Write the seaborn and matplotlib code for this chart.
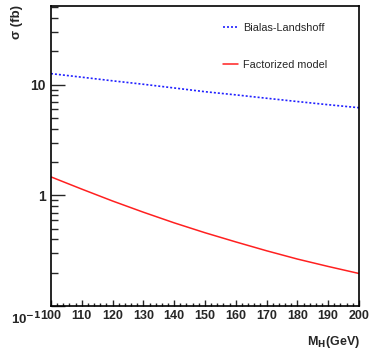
import numpy as np
import pandas as pd
import matplotlib
matplotlib.use("Agg")
import matplotlib.pyplot as plt
import seaborn as sns
from matplotlib.ticker import FixedLocator, FixedFormatter, MultipleLocator, LogLocator, NullFormatter

sns.set_style("white")
plt.rcParams['font.family'] = ['Liberation Sans', 'DejaVu Sans']
plt.rcParams['mathtext.default'] = 'bf'
plt.rcParams['axes.unicode_minus'] = False

mass = [100, 110, 120, 130, 140, 150, 160, 170, 180, 190, 200]
bialas = [12.6, 11.7, 10.85, 10.1, 9.35, 8.65, 8.1, 7.55, 7.05, 6.6, 6.2]
factorized = [1.47, 1.14, 0.89, 0.705, 0.565, 0.46, 0.38, 0.316, 0.266, 0.228, 0.197]
series_names = ["Bialas-Landshoff", "Factorized model"]
ytick_vals = [0.1, 1, 10]
ytick_labels = ["10$^{-1}$", "1", "10"]

df = pd.DataFrame({
    "M": mass * 2,
    "sigma": bialas + factorized,
    "model": [series_names[0]] * len(mass) + [series_names[1]] * len(mass),
})

fig = plt.figure(figsize=(3.72, 3.51), dpi=100)
ax = fig.add_axes([0.137, 0.128, 0.828, 0.855])

sns.lineplot(data=df[df.model == series_names[0]], x="M", y="sigma", ax=ax,
             color="#2020ff", linestyle=(0, (1.2, 1.2)), linewidth=1.2, label=series_names[0])
sns.lineplot(data=df[df.model == series_names[1]], x="M", y="sigma", ax=ax,
             color="#ff2020", linewidth=1.1, label=series_names[1])

ax.set_yscale("log")
ax.set_xlim(100, 200)
ax.set_ylim(0.1, 51.5)

for s in ax.spines.values():
    s.set_linewidth(1.2)
    s.set_color("black")

ax.xaxis.set_major_locator(MultipleLocator(10))
ax.xaxis.set_minor_locator(MultipleLocator(2))
ax.yaxis.set_major_locator(FixedLocator(ytick_vals))
ax.yaxis.set_major_formatter(FixedFormatter([""] + ytick_labels[1:]))
ax.yaxis.set_minor_locator(LogLocator(base=10, subs=np.arange(2, 10)))
ax.yaxis.set_minor_formatter(NullFormatter())

ax.tick_params(axis="x", which="major", direction="in", length=4, width=1, labelsize=9, pad=3)
ax.tick_params(axis="x", which="minor", direction="in", length=2, width=1)
ax.tick_params(axis="y", which="major", direction="in", length=10, width=1, labelsize=10, pad=4)
ax.tick_params(axis="y", which="minor", direction="in", length=5, width=1)
ax.tick_params(bottom=True, left=True, which="both")
for lab in ax.get_xticklabels() + ax.get_yticklabels():
    lab.set_fontweight("bold")

# the 10^-1 label sits lower, beside the first x label
ax.annotate(ytick_labels[0], xy=(0, ytick_vals[0]), xycoords=("axes fraction", "data"),
            xytext=(-7, -9), textcoords="offset points", ha="right", va="center",
            fontsize=9.5, fontweight="bold")

ax.set_xlabel("")
ax.set_ylabel("")
fig.text(0.968, 0.003, "M$_{H}$(GeV)", ha="right", va="bottom", fontsize=9, fontweight="bold")
fig.text(0.045, 0.987, "σ (fb)", ha="center", va="top", rotation=90, fontsize=9.5, fontweight="bold")

leg = ax.legend(loc="upper left", bbox_to_anchor=(0.527, 0.975), frameon=False,
                fontsize=7.8, handlelength=1.4, handletextpad=0.45, labelspacing=2.45)

fig.savefig("out.png", dpi=100)
